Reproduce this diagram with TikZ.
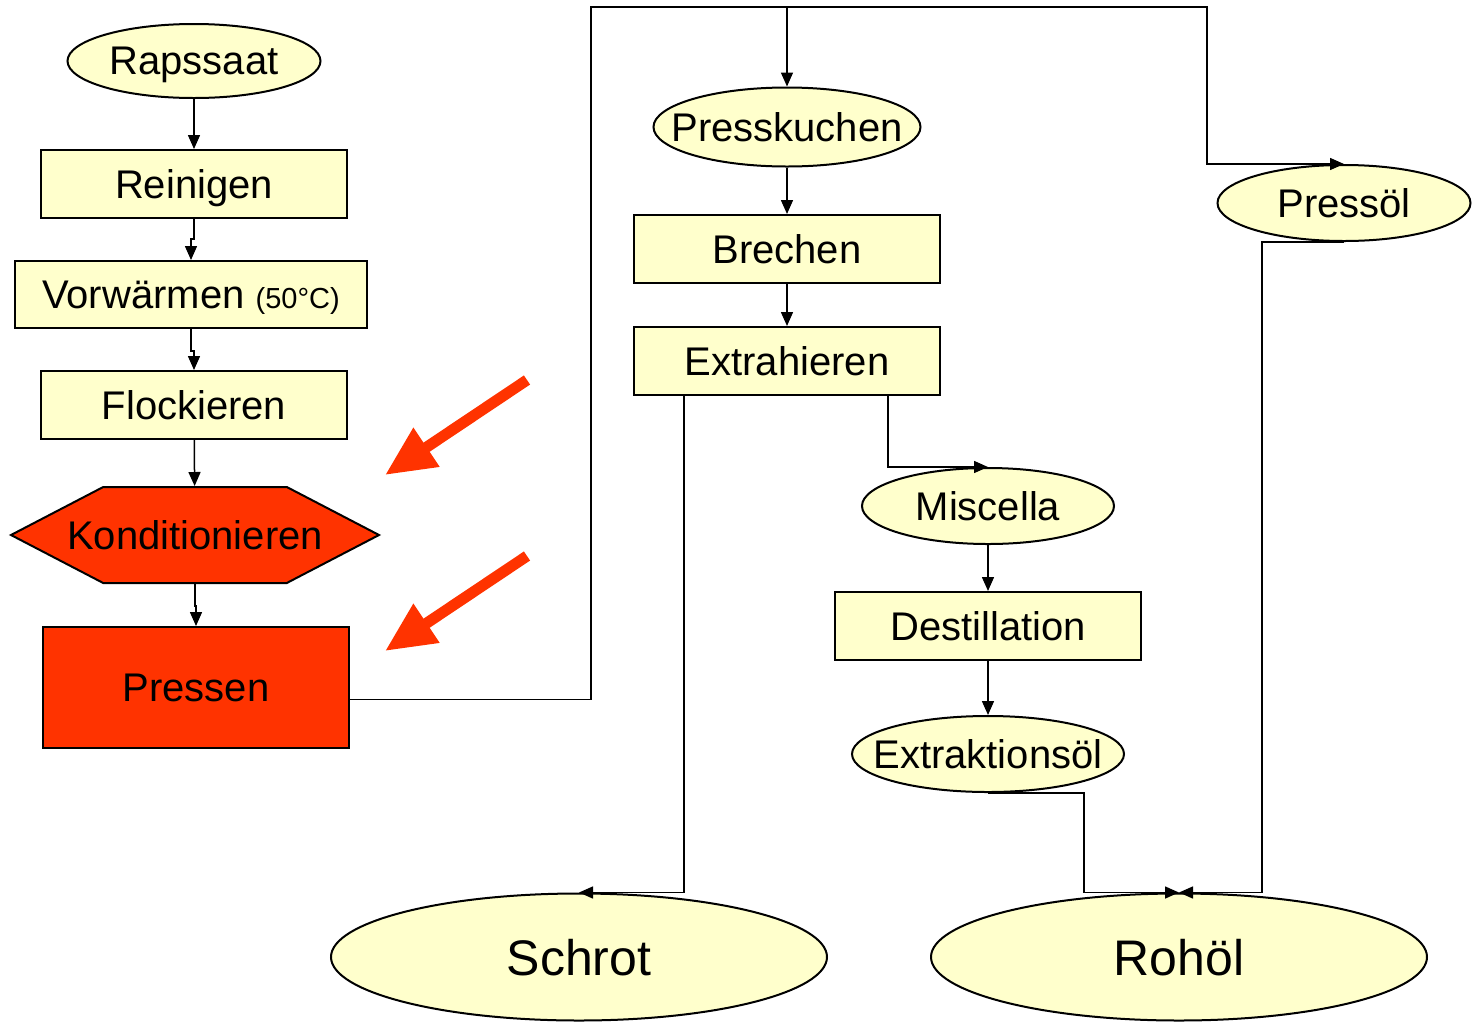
\documentclass[tikz,border=0pt]{standalone}
\usepackage{fontspec}
\setmainfont{Liberation Sans}
\usetikzlibrary{arrows.meta,shapes.geometric,shapes.symbols}
\definecolor{paleyellow}{HTML}{FFFFCC}
\definecolor{flame}{HTML}{FF3300}
\tikzset{
  stepbox/.style={draw, line width=2pt, fill=paleyellow, minimum width=306pt,
    minimum height=68pt, inner sep=0pt, text depth=0pt, font=\fontsize{40}{48}\selectfont},
  product/.style={draw, ellipse, line width=2pt, fill=paleyellow, inner sep=0pt,
    text depth=0pt, font=\fontsize{40}{48}\selectfont},
  flow/.style={line width=1.5pt, -{Triangle[length=14pt,width=12pt]}},
  pointer/.style={flame, line width=11pt, -{Triangle[length=50pt,width=44pt]}}
}
% text that may stick out of its shape
\newcommand{\slim}[1]{\makebox[0pt]{#1}}
\begin{document}
\begin{tikzpicture}[x=1pt, y=-1pt]
    \useasboundingbox (0, 0) rectangle (1473, 1021);

    % Seed preparation
    \node [product, minimum width=253pt, minimum height=74pt] (rapssaat) at (194, 61) {\slim{Rapssaat}};
    \node [stepbox] (reinigen) at (194, 184) {Reinigen};
    \node [stepbox, minimum width=352pt, minimum height=67pt] (vorwaermen) at (191, 294.5)
      {Vorwärmen {\fontsize{29}{34}\selectfont(50°C)}};
    \node [stepbox] (flockieren) at (194, 405) {Flockieren};
    \node [draw, line width=2pt, fill=flame, shape=signal, signal to=west and east,
      signal pointer angle=55, minimum width=368pt, minimum height=96pt, inner sep=0pt,
      text depth=0pt, font=\fontsize{40}{48}\selectfont] (konditionieren) at (195, 535) {\slim{Konditionieren}};
    \node [stepbox, fill=flame, minimum height=121pt] (pressen) at (196, 687.5) {Pressen};

    \draw [flow] (rapssaat) -- (reinigen);
    \draw [flow] (reinigen.south) -- ++(0, 20) -| (vorwaermen.north);
    \draw [flow] (vorwaermen.south) -- ++(0, 22) -| (flockieren.north);
    \draw [flow] (flockieren) -- (konditionieren);
    \draw [flow] (konditionieren.south) -- ++(0, 22) -| (pressen.north);

    % Red pointers
    \coordinate (upper tail) at (527, 380);
    \coordinate (upper tip) at (385, 475);
    \coordinate (lower tail) at (527, 556);
    \coordinate (lower tip) at (385, 651);
    \draw [pointer] (upper tail) -- (upper tip);
    \draw [pointer] (lower tail) -- (lower tip);

    % Press cake and press oil
    \node [product, minimum width=267pt, minimum height=79pt] (presskuchen) at (787, 127) {\slim{Presskuchen}};
    \node [product, minimum width=253pt, minimum height=76pt] (pressoel) at (1344, 203) {\slim{Pressöl}};
    \coordinate (top left) at (591, 7);
    \coordinate (top right) at (1207, 7);
    \draw [flow] ([yshift=-12pt]pressen.east) -| (top left) -- (top right) |- (pressoel.north);
    \draw [flow] (top left -| presskuchen.north) -- (presskuchen.north);

    % Extraction
    \node [stepbox] (brechen) at (787, 249) {Brechen};
    \node [stepbox] (extrahieren) at (787, 361) {Extrahieren};
    \node [product, minimum width=252pt, minimum height=76pt] (miscella) at (988, 506) {\slim{Miscella}};
    \node [stepbox] (destillation) at (988, 626) {Destillation};
    \node [product, minimum width=272pt, minimum height=76pt] (extraktionsoel) at (988, 754) {\slim{Extraktionsöl}};

    \draw [flow] (presskuchen) -- (brechen);
    \draw [flow] (brechen) -- (extrahieren);
    \draw [flow] ([xshift=101pt]extrahieren.south) |- (miscella.north);
    \draw [flow] (miscella) -- (destillation);
    \draw [flow] (destillation) -- (extraktionsoel);

    % Products
    \node [product, minimum width=496pt, minimum height=127pt, font=\fontsize{50}{60}\selectfont] (schrot) at (579, 957) {\slim{Schrot}};
    \node [product, minimum width=496pt, minimum height=127pt, font=\fontsize{50}{60}\selectfont] (rohoel) at (1179, 957) {\slim{Rohöl}};

    \draw [flow] ([xshift=-103pt]extrahieren.south) |- (schrot.north);
    \draw [flow] (extraktionsoel.south) -- ++(96, 0) |- (rohoel.north);
    \draw [flow] (pressoel.south) -- ++(-82, 0) |- (rohoel.north);
\end{tikzpicture}
\end{document}
